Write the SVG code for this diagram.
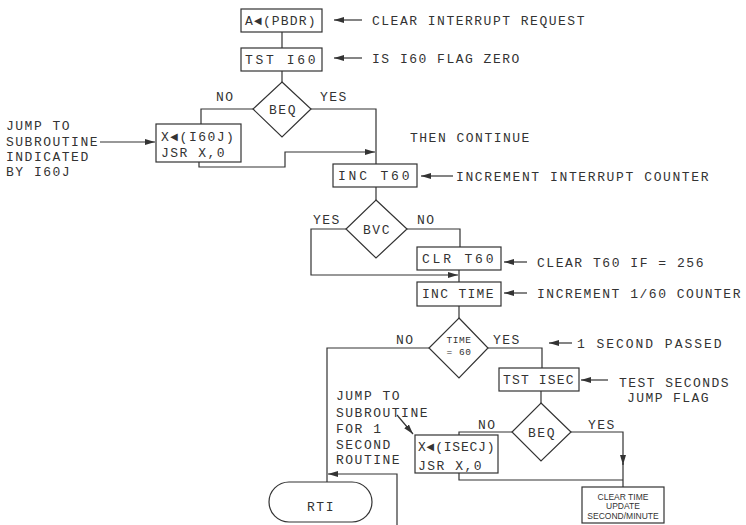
<svg xmlns="http://www.w3.org/2000/svg" width="746" height="525" viewBox="0 0 746 525">
<defs>
<style>
.n{fill:#fff;stroke:#333;stroke-width:1.2}
.c{fill:none;stroke:#333;stroke-width:1.2}
text{font-family:"Liberation Mono","DejaVu Sans Mono",monospace;font-size:13px;fill:#333;letter-spacing:1.5px}
.m{text-anchor:middle}
.s{font-family:"Liberation Sans",Arial,sans-serif;font-size:8.5px;letter-spacing:0}
.t{font-size:9.5px;letter-spacing:0.5px}
</style>
<marker id="ah" viewBox="0 0 10 6" refX="10" refY="3" markerWidth="10" markerHeight="6" markerUnits="userSpaceOnUse" orient="auto">
<path d="M0,0 L10,3 L0,6 z" fill="#333"/>
</marker>
</defs>
<rect width="746" height="525" fill="#fff"/>

<g id="connectors">
<path class="c" d="M282,32 V48"/>
<path class="c" d="M282,71 V82"/>
<path class="c" d="M253,109 H201 V124"/>
<path class="c" d="M199,162 V167 H285 V152 H375" marker-end="url(#ah)"/>
<path class="c" d="M311,109 H376 V164"/>
<path class="c" d="M376,187 V200"/>
<path class="c" d="M346,229 H311 V275 H458" marker-end="url(#ah)"/>
<path class="c" d="M407,229 H460 V247"/>
<path class="c" d="M459,270 V282"/>
<path class="c" d="M459,306 V318"/>
<path class="c" d="M488,348 H542 V368"/>
<path class="c" d="M429,348 H327 V482"/>
<path class="c" d="M397,525 V474 H328" marker-end="url(#ah)"/>
<path class="c" d="M541,391 V403"/>
<path class="c" d="M512,432 H459 V435"/>
<path class="c" d="M459,473 V480 H623"/>
<path class="c" d="M571,432 H623 V465" marker-end="url(#ah)"/>
<path class="c" d="M623,463 V487"/>
<path class="c" d="M362,20 H334" marker-end="url(#ah)"/>
<path class="c" d="M362,58 H334" marker-end="url(#ah)"/>
<path class="c" d="M100,142 H155" marker-end="url(#ah)"/>
<path class="c" d="M453,176 H421" marker-end="url(#ah)"/>
<path class="c" d="M527,262 H504" marker-end="url(#ah)"/>
<path class="c" d="M527,293 H504" marker-end="url(#ah)"/>
<path class="c" d="M572,343 H549" marker-end="url(#ah)"/>
<path class="c" d="M608,380 H581" marker-end="url(#ah)"/>
<path class="c" d="M397,415 L413,434" marker-end="url(#ah)"/>
</g>

<g id="labels">
<text x="372" y="25">CLEAR INTERRUPT REQUEST</text>
<text x="372" y="63">IS I60 FLAG ZERO</text>
<text x="216" y="101">NO</text>
<text x="320" y="101">YES</text>
<text x="6" y="130">JUMP TO</text>
<text x="6" y="146">SUBROUTINE</text>
<text x="6" y="161">INDICATED</text>
<text x="6" y="176">BY I60J</text>
<text x="410" y="142">THEN CONTINUE</text>
<text x="456" y="181" textLength="254" lengthAdjust="spacing">INCREMENT INTERRUPT COUNTER</text>
<text x="313" y="224">YES</text>
<text x="417" y="224">NO</text>
<text x="537" y="267" textLength="168" lengthAdjust="spacing">CLEAR T60 IF = 256</text>
<text x="537" y="298" textLength="205" lengthAdjust="spacing">INCREMENT 1/60 COUNTER</text>
<text x="396" y="344">NO</text>
<text x="493" y="344">YES</text>
<text x="577" y="348" textLength="146" lengthAdjust="spacing">1 SECOND PASSED</text>
<text x="619" y="387" textLength="111" lengthAdjust="spacing">TEST SECONDS</text>
<text x="627" y="402" textLength="83" lengthAdjust="spacing">JUMP FLAG</text>
<text x="478" y="429">NO</text>
<text x="588" y="429">YES</text>
<text x="336" y="400">JUMP TO</text>
<text x="336" y="417">SUBROUTINE</text>
<text x="336" y="433">FOR 1</text>
<text x="336" y="449">SECOND</text>
<text x="336" y="464">ROUTINE</text>
</g>

<g id="n1"><rect class="n" x="241" y="9" width="81" height="23"/><text x="245" y="25" textLength="72" lengthAdjust="spacing">A◄(PBDR)</text></g>
<g id="n2"><rect class="n" x="241" y="48" width="81" height="23"/><text x="245" y="64" textLength="72" lengthAdjust="spacing">TST  I60</text></g>
<g id="n3"><polygon class="n" points="282,82 311,109 282,137 253,109"/><text class="m" x="283" y="114">BEQ</text></g>
<g id="n4"><rect class="n" x="156" y="124" width="85" height="38"/><text x="161" y="141">X◄(I60J)</text><text x="161" y="157">JSR X,0</text></g>
<g id="n5"><rect class="n" x="333" y="164" width="84" height="23"/><text x="338" y="180" textLength="73" lengthAdjust="spacing">INC  T60</text></g>
<g id="n6"><polygon class="n" points="376,200 407,229 376,258 346,229"/><text class="m" x="377" y="234">BVC</text></g>
<g id="n7"><rect class="n" x="417" y="247" width="84" height="23"/><text x="422" y="263" textLength="73" lengthAdjust="spacing">CLR  T60</text></g>
<g id="n8"><rect class="n" x="417" y="282" width="84" height="24"/><text x="422" y="298" textLength="73" lengthAdjust="spacing">INC TIME</text></g>
<g id="n9"><polygon class="n" points="459,318 488,348 459,378 429,348"/><text class="m t" x="459" y="343">TIME</text><text class="m t" x="459" y="355">= 60</text></g>
<g id="n10"><rect class="n" x="499" y="368" width="80" height="23"/><text x="503" y="384" textLength="72" lengthAdjust="spacing">TST ISEC</text></g>
<g id="n11"><polygon class="n" points="541,403 571,432 541,461 512,432"/><text class="m" x="542" y="437">BEQ</text></g>
<g id="n12"><rect class="n" x="415" y="435" width="83" height="38"/><text x="418" y="451" textLength="78" lengthAdjust="spacing">X◄(ISECJ)</text><text x="418" y="470">JSR X,0</text></g>
<g id="n13"><rect class="n" x="582" y="487" width="82" height="36"/><text class="m s" x="623" y="500">CLEAR TIME</text><text class="m s" x="623" y="509">UPDATE</text><text class="m s" x="623" y="519">SECOND/MINUTE</text></g>
<g id="n14"><rect class="n" x="269" y="482" width="103" height="40" rx="20" ry="20"/><text class="m" x="321" y="511">RTI</text></g>
</svg>
